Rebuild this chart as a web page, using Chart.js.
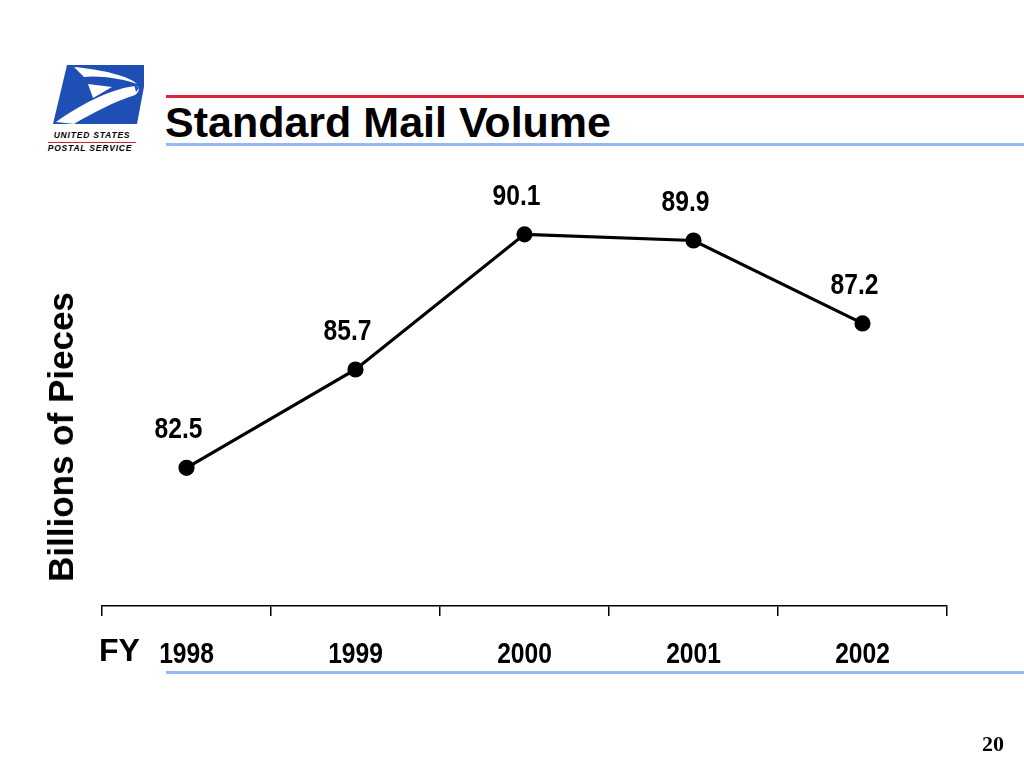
<!DOCTYPE html>
<html>
<head>
<meta charset="utf-8">
<script src="https://cdn.jsdelivr.net/npm/chart.js@4.4.1/dist/chart.umd.min.js"></script>
<style>
  body { margin: 0; background: #fff; }
  #page { position: relative; width: 1024px; height: 768px; overflow: hidden; font-family: "Liberation Sans", Arial, sans-serif; }
  #grafico { position: absolute; left: 0; top: 0; }
  .rule { position: absolute; left: 166px; right: 0; height: 3px; }
  #titulo { position: absolute; left: 165px; top: 101px; font-size: 43px; line-height: 43px; font-weight: bold; color: #000; white-space: nowrap; }
  #ytitulo { position: absolute; left: 61px; top: 437px; transform: translate(-50%, -50%) rotate(-90deg); font-size: 35px; font-weight: bold; white-space: nowrap; }
  #fy { position: absolute; left: 99px; top: 634px; font-size: 32px; line-height: 32px; font-weight: bold; }
  #pagina { position: absolute; left: 982px; top: 731px; font-family: "Liberation Serif", "Times New Roman", serif; font-size: 22px; font-weight: bold; }
  #logo { position: absolute; left: 44px; top: 62px; }
</style>
</head>
<body>
<div id="page">
  <svg id="logo" width="100" height="95" viewBox="0 0 100 95">
    <polygon points="23,3 104,3 93,62 9,62" fill="#1f4fb4"/>
    <path d="M12,60 C40,40 70,26 92,24 C96,24 96,30 91,33 C70,40 50,50 30,62 Z" fill="#fff"/>
    <path d="M30,5 C60,8 85,14 93,22 C80,17 55,13 40,15 Z" fill="#fff"/>
    <polygon points="44,22 68,25 49,36" fill="#fff"/>
    <polygon points="90,22 95,26 92,30" fill="#1f4fb4"/>
    <text x="48" y="76" text-anchor="middle" font-family="Liberation Sans, Arial, sans-serif" font-size="8.5" font-weight="bold" font-style="italic" letter-spacing="0.8">UNITED STATES</text>
    <rect x="4" y="80" width="88" height="1" fill="#d0203a"/>
    <text x="46" y="89" text-anchor="middle" font-family="Liberation Sans, Arial, sans-serif" font-size="8.5" font-weight="bold" font-style="italic" letter-spacing="0.8">POSTAL SERVICE</text>
  </svg>
  <div class="rule" style="top:95px; background:#e0203c;"></div>
  <div id="titulo">Standard Mail Volume</div>
  <div class="rule" style="top:143px; background:#9ab8f2;"></div>
  <canvas id="grafico" width="1024" height="768"></canvas>
  <div id="ytitulo">Billions of Pieces</div>
  <div id="fy">FY</div>
  <div class="rule" style="top:671px; background:#9ab8f2;"></div>
  <div id="pagina">20</div>
</div>
<script>
const anos = ["1998", "1999", "2000", "2001", "2002"];
const volume = [82.5, 85.7, 90.1, 89.9, 87.2];
const eixoMin = 78;
const eixoMax = 92;

// texto estreito (tipo Arial Narrow): fonte normal comprimida na horizontal
const estreito = 0.82;

function textoEstreito(ctx, texto, x, y) {
  ctx.save();
  ctx.translate(x, y);
  ctx.scale(estreito, 1);
  ctx.fillText(texto, 0, 0);
  ctx.restore();
}

// rotulos de valor e anos do eixo x
const rotulosPlugin = {
  id: "rotulos",
  afterDraw(chart) {
    const ctx = chart.ctx;
    const meta = chart.getDatasetMeta(0);
    const eixoX = chart.scales.x;
    ctx.save();
    ctx.font = "bold 30px 'Liberation Sans', Arial, sans-serif";
    ctx.fillStyle = "#000";
    ctx.textAlign = "center";
    ctx.textBaseline = "middle";
    meta.data.forEach((ponto, i) => {
      textoEstreito(ctx, volume[i].toFixed(1), ponto.x - 8, ponto.y - 38);
    });
    anos.forEach((ano, i) => {
      textoEstreito(ctx, ano, eixoX.getPixelForValue(i), chart.chartArea.bottom + 49);
    });
    ctx.restore();
  },
};

const grafico = new Chart(document.getElementById("grafico"), {
  type: "line",
  data: {
    labels: anos,
    datasets: [
      {
        label: "Standard Mail",
        data: volume,
        borderColor: "#000",
        borderWidth: 3.2,
        pointBackgroundColor: "#000",
        pointBorderColor: "#000",
        pointRadius: 6.5,
        tension: 0,
      },
    ],
  },
  options: {
    responsive: false,
    animation: false,
    layout: { padding: { left: 102, right: 77, top: 176, bottom: 152 } },
    plugins: { legend: { display: false }, tooltip: { enabled: false } },
    scales: {
      x: {
        offset: true,
        grid: { offset: true, drawOnChartArea: false, color: "#000", tickLength: 10, lineWidth: 1.5 },
        border: { color: "#000", width: 1.5 },
        ticks: { display: false },
      },
      y: {
        display: false,
        min: eixoMin,
        max: eixoMax,
      },
    },
  },
  plugins: [rotulosPlugin],
});
</script>
</body>
</html>
